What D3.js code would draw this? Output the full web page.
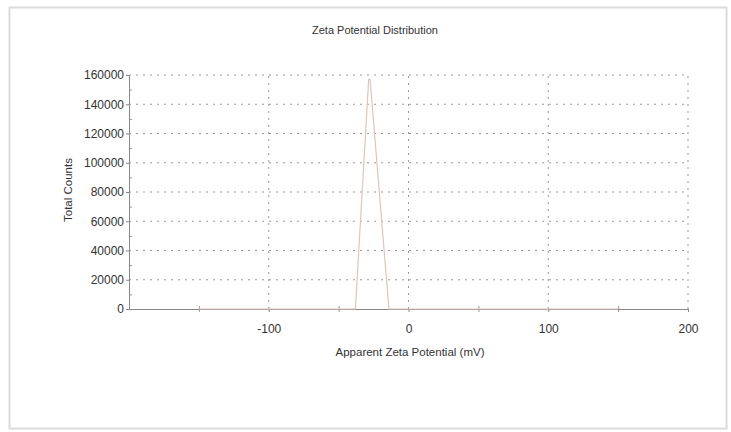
<!DOCTYPE html>
<html>
<head>
<meta charset="utf-8">
<script src="https://cdn.jsdelivr.net/npm/d3@7"></script>
<style>
  body { margin: 0; background: #fff; }
  svg { font-family: "Liberation Sans", Arial, sans-serif; }
</style>
</head>
<body>
<div id="chart"></div>
<script>
// zeta potential (mV) and total counts
var zeta = [-150, -100, -50, -38, -28.5, -27.5, -14, 0, 50, 100, 150];
var counts = [0, 0, 0, 0, 157000, 157000, 0, 0, 0, 0, 0];
var xTicks = [-100, 0, 100, 200];
var yTicks = [0, 20000, 40000, 60000, 80000, 100000, 120000, 140000, 160000];

var width = 731, height = 432;
var margin = {top: 75, right: 43, bottom: 123, left: 129};

var svg = d3.select('#chart').append('svg')
  .attr('width', width).attr('height', height);

// outer frame
svg.append('rect').attr('x', 9.5).attr('y', 7.5).attr('width', 717).attr('height', 421)
  .attr('fill', 'none').attr('stroke', '#dcdcdc').attr('stroke-width', 2);

var x = d3.scaleLinear().domain([-200, 200]).range([margin.left, width - margin.right]);
var y = d3.scaleLinear().domain([0, 160000]).range([height - margin.bottom, margin.top]);

// grid
svg.append('g').selectAll('line').data(yTicks.slice(1)).enter().append('line')
  .attr('x1', x(-200)).attr('x2', x(200))
  .attr('y1', function(d) { return y(d); }).attr('y2', function(d) { return y(d); })
  .attr('stroke', '#999').attr('stroke-dasharray', '2,5');
svg.append('g').selectAll('line').data(xTicks).enter().append('line')
  .attr('y1', y(0)).attr('y2', y(160000))
  .attr('x1', function(d) { return x(d); }).attr('x2', function(d) { return x(d); })
  .attr('stroke', '#999').attr('stroke-dasharray', '2,5');

// minor ticks
svg.append('g').attr('transform', 'translate(0,' + y(0) + ')')
  .call(d3.axisBottom(x).tickValues([-150, -50, 50, 150]).tickSizeInner(3).tickSizeOuter(0).tickFormat(''))
  .call(function(g) { g.select('.domain').remove(); g.selectAll('line').attr('y1', -3).attr('stroke', '#999'); });
svg.append('g').attr('transform', 'translate(' + x(-200) + ',0)')
  .call(d3.axisRight(y).tickValues(d3.range(10000, 160000, 20000)).tickSizeInner(3).tickSizeOuter(0).tickFormat(''))
  .call(function(g) { g.select('.domain').remove(); g.selectAll('line').attr('stroke', '#999'); });

// axes
var plain = function(d) { return String(d); };
var xAxis = svg.append('g').attr('transform', 'translate(0,' + y(0) + ')')
  .call(d3.axisBottom(x).tickValues(xTicks).tickSize(3).tickSizeOuter(0).tickPadding(12).tickFormat(plain));
var yAxis = svg.append('g').attr('transform', 'translate(' + x(-200) + ',0)')
  .call(d3.axisLeft(y).tickValues(yTicks).tickSize(3).tickSizeOuter(0).tickPadding(2).tickFormat(plain));
[xAxis, yAxis].forEach(function(g) {
  g.select('.domain').attr('stroke', '#888');
  g.selectAll('line').attr('stroke', '#888');
  g.selectAll('text').attr('fill', '#333').style('font-size', '12px');
});

// data line
var line = d3.line().x(function(d, i) { return x(zeta[i]); }).y(function(d) { return y(d); });
svg.append('path').datum(counts).attr('d', line)
  .attr('fill', 'none').attr('stroke', '#dcc6be').attr('stroke-width', 1.2);

// titles
svg.append('text').attr('x', 375).attr('y', 34).attr('text-anchor', 'middle')
  .style('font-size', '11px').attr('fill', '#333').text('Zeta Potential Distribution');
svg.append('text').attr('x', 410).attr('y', 356).attr('text-anchor', 'middle')
  .style('font-size', '11.5px').attr('fill', '#333').text('Apparent Zeta Potential (mV)');
svg.append('text').attr('transform', 'translate(72,190) rotate(-90)').attr('text-anchor', 'middle')
  .style('font-size', '11.5px').attr('fill', '#333').text('Total Counts');
</script>
</body>
</html>
